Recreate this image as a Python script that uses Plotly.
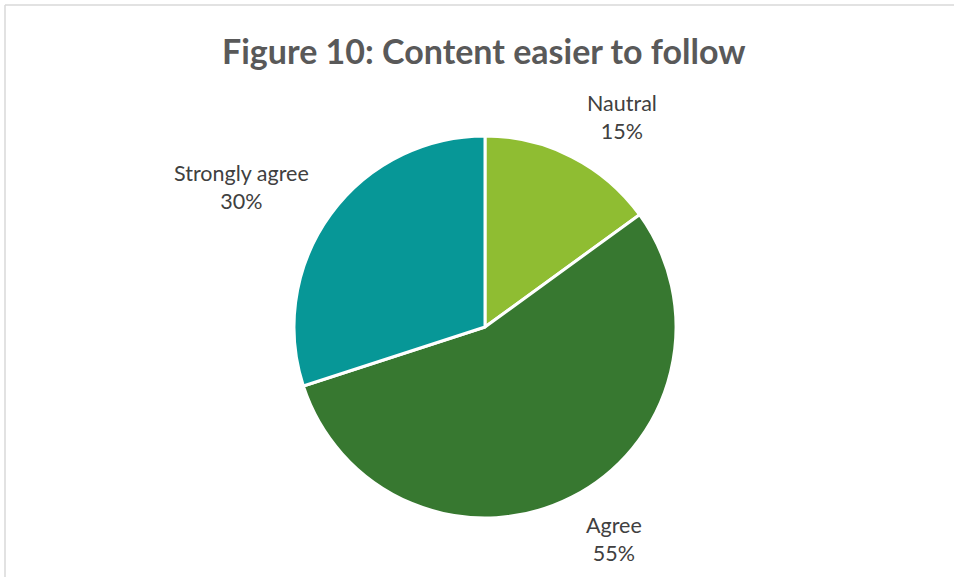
import plotly.graph_objects as go

labels = ["Nautral", "Agree", "Strongly agree"]
values = [15, 55, 30]
colors = ["#8FBD32", "#377830", "#079797"]
title_text = "Figure 10: Content easier to follow"

W, H = 954, 577
cx, cy, r = 485, 327, 191

# label anchor positions in pixels (text centres)
label_pos = [(622, 117), (614, 539), (241, 187)]

fig = go.Figure(go.Pie(
    labels=labels, values=values, sort=False, direction="clockwise", rotation=0,
    marker=dict(colors=colors, line=dict(color="white", width=3)),
    textinfo="none", hoverinfo="label+percent", showlegend=False,
    domain=dict(x=[(cx - r) / W, (cx + r) / W], y=[1 - (cy + r) / H, 1 - (cy - r) / H]),
))

total = sum(values)
for lab, val, (px, py) in zip(labels, values, label_pos):
    fig.add_annotation(
        x=px / W, y=1 - py / H, xref="paper", yref="paper", showarrow=False,
        text=f"{lab}<br>{round(100 * val / total)}%", align="center",
        font=dict(family="Lato, Open Sans, sans-serif", size=21.5, color="#404040"),
        xanchor="center", yanchor="middle",
    )

fig.add_annotation(
    x=484 / W, y=1 - 50 / H, xref="paper", yref="paper", showarrow=False,
    text=f"<b>{title_text}</b>",
    font=dict(family="Lato, Open Sans, sans-serif", size=34, color="#595959"),
    xanchor="center", yanchor="middle",
)

# chart-area border (left and top edges visible)
fig.add_shape(type="line", xref="paper", yref="paper",
              x0=5 / W, y0=0, x1=5 / W, y1=1 - 5 / H, line=dict(color="#D9D9D9", width=1.5))
fig.add_shape(type="line", xref="paper", yref="paper",
              x0=5 / W, y0=1 - 5 / H, x1=1, y1=1 - 5 / H, line=dict(color="#D9D9D9", width=1.5))

fig.update_layout(
    width=W, height=H, margin=dict(l=0, r=0, t=0, b=0),
    paper_bgcolor="white", plot_bgcolor="white",
)
fig.write_html("out.html", config={"displayModeBar": False},
               post_script="document.body.style.margin='0';")
